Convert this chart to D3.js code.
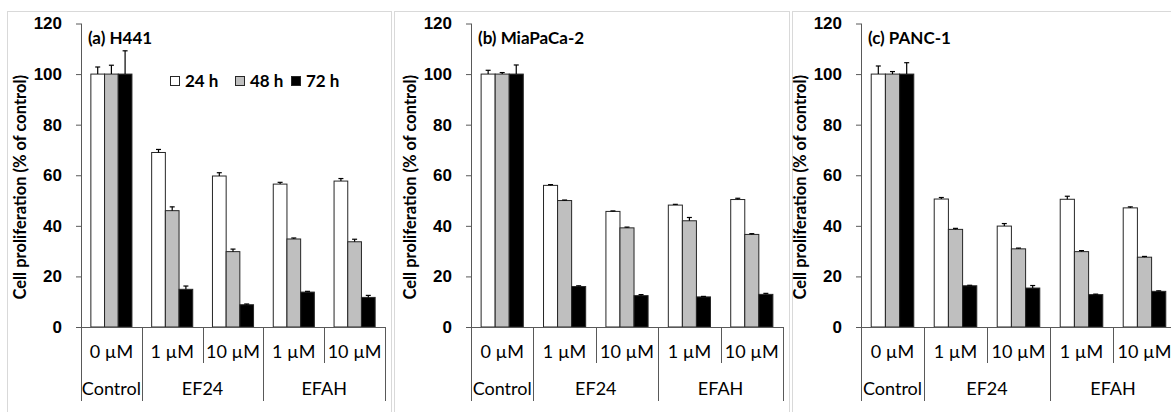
<!DOCTYPE html>
<html>
<head>
<meta charset="utf-8">
<script src="https://cdn.jsdelivr.net/npm/d3@7"></script>
<style>
  body { margin: 0; background: #fff; }
  svg { font-family: Lato, "Open Sans", sans-serif; }
  .tick text { font-size: 17px; font-weight: bold; fill: #000; }
  .ylabel { font-size: 16.5px; font-weight: bold; }
  .title { font-size: 17px; font-weight: bold; }
  .cat { font-size: 18px; }
  .legend text { font-size: 17px; font-weight: bold; }
</style>
</head>
<body>
<svg id="chart" width="1171" height="412"></svg>
<script>
// categories
const doses = ["0 µM", "1 µM", "10 µM", "1 µM", "10 µM"]
const groups = [
    {name: "Control", from: 0, to: 0},
    {name: "EF24", from: 1, to: 2},
    {name: "EFAH", from: 3, to: 4}
]
const seriesNames = ["24 h", "48 h", "72 h"]
const seriesFill = ["#ffffff", "#bfbfbf", "#000000"]
const panelTitles = ["(a) H441", "(b) MiaPaCa-2", "(c) PANC-1"]
const yTicks = [0, 20, 40, 60, 80, 100, 120]

// H441
const h441_24 = [100, 69.0, 59.7, 56.5, 57.7]
const h441_48 = [100, 46.0, 29.8, 34.8, 33.7]
const h441_72 = [100, 14.9, 8.8, 13.8, 11.7]
const h441_err24 = [2.8, 1.2, 1.3, 0.7, 1.0]
const h441_err48 = [3.5, 1.5, 1.0, 0.4, 1.0]
const h441_err72 = [9.2, 1.3, 0.3, 0.3, 0.8]

// MiaPaCa-2
const mia_24 = [100, 56.0, 45.7, 48.2, 50.4]
const mia_48 = [100, 50.0, 39.2, 42.0, 36.6]
const mia_72 = [100, 16.0, 12.4, 11.9, 12.9]
const mia_err24 = [1.5, 0.3, 0.2, 0.3, 0.5]
const mia_err48 = [0.6, 0.2, 0.3, 1.3, 0.3]
const mia_err72 = [3.6, 0.3, 0.4, 0.2, 0.4]

// PANC-1
const panc_24 = [100, 50.6, 39.9, 50.5, 47.1]
const panc_48 = [100, 38.6, 30.9, 29.8, 27.6]
const panc_72 = [100, 16.3, 15.4, 12.8, 14.1]
const panc_err24 = [3.2, 0.6, 1.0, 1.2, 0.4]
const panc_err48 = [1.0, 0.4, 0.3, 0.4, 0.3]
const panc_err72 = [4.5, 0.2, 1.0, 0.2, 0.2]

const panelData = [
    {values: [h441_24, h441_48, h441_72], errs: [h441_err24, h441_err48, h441_err72]},
    {values: [mia_24, mia_48, mia_72], errs: [mia_err24, mia_err48, mia_err72]},
    {values: [panc_24, panc_48, panc_72], errs: [panc_err24, panc_err48, panc_err72]}
]

// layout
const frames = [
    {x: 7, y: 11, w: 384, h: 410},
    {x: 394, y: 11, w: 395, h: 410},
    {x: 792, y: 11, w: 400, h: 410}
]
const axisX = [[81, 385], [471, 783], [861, 1176]]
const labelX = [20, 410, 800]
const yTop = 23.5, yBottom = 327

const svg = d3.select("#chart")

const y = d3.scaleLinear().domain([0, 120]).range([yBottom, yTop])

panelData.forEach(function(pd, p){
    const g = svg.append("g")

    g.append("rect")
        .attr("x", frames[p].x + 0.5).attr("y", frames[p].y + 0.5)
        .attr("width", frames[p].w).attr("height", frames[p].h)
        .attr("fill", "none").attr("stroke", "#d9d9d9")

    const x = d3.scaleBand()
        .domain(d3.range(doses.length))
        .range(axisX[p])
        .padding(0)

    const xs = d3.scaleBand()
        .domain(d3.range(seriesNames.length))
        .range([0, x.bandwidth()])
        .paddingInner(0)
        .paddingOuter(0.72)

    // y axis
    const yAxis = g.append("g")
        .attr("transform", "translate(" + axisX[p][0] + ",0)")
        .call(d3.axisLeft(y).tickValues(yTicks).tickSize(5).tickPadding(14))
    yAxis.selectAll("line, path").attr("stroke", "#595959")
    yAxis.select(".domain").attr("d", "M0.5," + yTop + "V" + yBottom)

    g.append("text")
        .attr("class", "ylabel")
        .attr("transform", "translate(" + labelX[p] + "," + ((yTop + yBottom) / 2 + 12) + ") rotate(-90)")
        .attr("text-anchor", "middle")
        .attr("dy", "0.35em")
        .text("Cell proliferation (% of control)")

    // bars
    pd.values.forEach(function(vals, s){
        g.selectAll(null)
            .data(vals)
            .enter()
            .append("rect")
            .attr("x", (d, i) => x(i) + xs(s))
            .attr("y", d => y(d))
            .attr("width", xs.bandwidth())
            .attr("height", d => yBottom - y(d))
            .attr("fill", seriesFill[s])
            .attr("stroke", "#262626")
            .attr("stroke-width", 1)

        // error bars (plus only)
        const errs = pd.errs[s]
        const eg = g.selectAll(null)
            .data(vals)
            .enter()
            .append("g")
            .attr("transform", (d, i) => "translate(" + (x(i) + xs(s) + xs.bandwidth() / 2) + ",0)")
        eg.append("line")
            .attr("x1", 0).attr("x2", 0)
            .attr("y1", d => y(d))
            .attr("y2", (d, i) => y(d + errs[i]))
            .attr("stroke", "#000").attr("stroke-width", 1.2)
        eg.append("line")
            .attr("x1", -2.5).attr("x2", 2.5)
            .attr("y1", (d, i) => y(d + errs[i]))
            .attr("y2", (d, i) => y(d + errs[i]))
            .attr("stroke", "#000").attr("stroke-width", 1.2)
    })

    // x axis line
    g.append("line")
        .attr("x1", axisX[p][0]).attr("x2", axisX[p][1])
        .attr("y1", yBottom + 0.5).attr("y2", yBottom + 0.5)
        .attr("stroke", "#595959")

    // dose separators and labels
    const groupEdges = []
    groups.forEach(gr => { groupEdges.push(gr.from); })
    groupEdges.push(doses.length)
    d3.range(doses.length + 1).forEach(function(i){
        const xx = i < doses.length ? x(i) : axisX[p][1]
        const long = groupEdges.indexOf(i) >= 0
        g.append("line")
            .attr("x1", Math.round(xx) + 0.5).attr("x2", Math.round(xx) + 0.5)
            .attr("y1", yBottom).attr("y2", long ? 401 : 363)
            .attr("stroke", "#595959")
    })

    g.selectAll(null)
        .data(doses)
        .enter()
        .append("text")
        .attr("class", "cat")
        .attr("x", (d, i) => x(i) + x.bandwidth() / 2)
        .attr("y", 358)
        .attr("text-anchor", "middle")
        .text(d => d)

    g.selectAll(null)
        .data(groups)
        .enter()
        .append("text")
        .attr("class", "cat")
        .attr("x", d => (x(d.from) + x(d.to) + x.bandwidth()) / 2)
        .attr("y", 395)
        .attr("text-anchor", "middle")
        .text(d => d.name)

    g.append("text")
        .attr("class", "title")
        .attr("x", axisX[p][0] + 7)
        .attr("y", 44)
        .text(panelTitles[p])

    if (p == 0){
        const lg = g.append("g").attr("class", "legend")
        const lx = [170, 235, 291]
        seriesNames.forEach(function(n, s){
            lg.append("rect")
                .attr("x", lx[s] + 0.5).attr("y", 76.5)
                .attr("width", 9).attr("height", 9)
                .attr("fill", seriesFill[s])
                .attr("stroke", "#262626")
            lg.append("text")
                .attr("x", lx[s] + 15)
                .attr("y", 86.5)
                .text(n)
        })
    }
})
</script>
</body>
</html>
